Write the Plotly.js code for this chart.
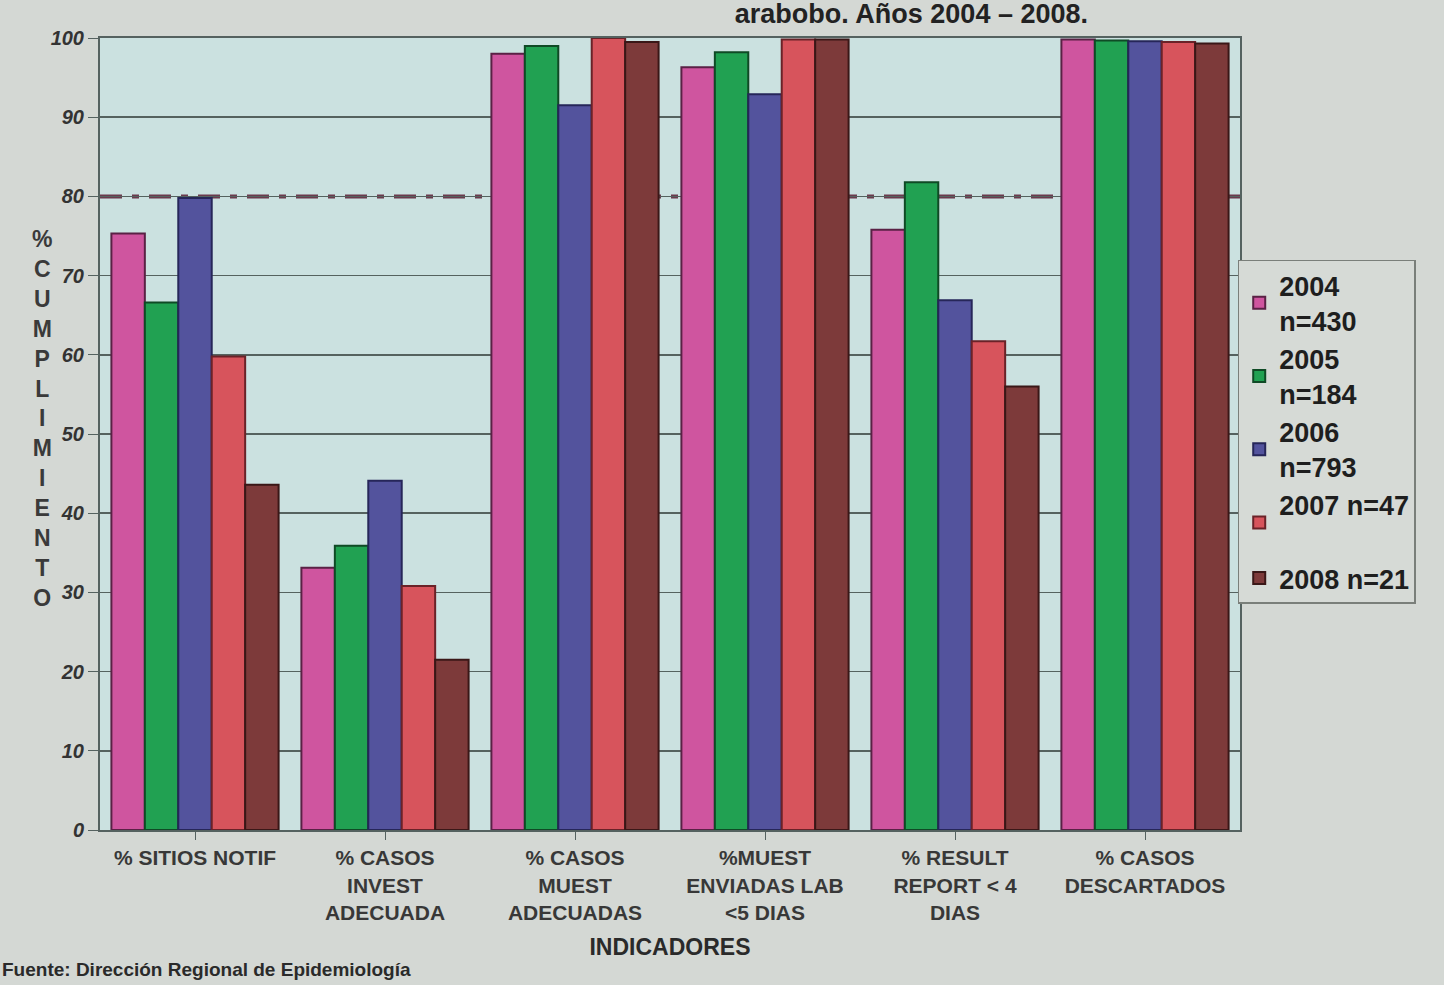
<!DOCTYPE html>
<html>
<head>
<meta charset="utf-8">
<script src="https://cdn.plot.ly/plotly-3.0.1.min.js"></script>
<style>
  html, body { margin: 0; padding: 0; background: #d4d8d4; }
  #chart { width: 1444px; height: 985px; }
</style>
</head>
<body>
<div id="chart"></div>
<script>
// ---- data ----
const categories = [
  "% SITIOS NOTIF",
  "% CASOS<br>INVEST<br>ADECUADA",
  "% CASOS<br>MUEST<br>ADECUADAS",
  "%MUEST<br>ENVIADAS LAB<br>&lt;5 DIAS",
  "% RESULT<br>REPORT &lt; 4<br>DIAS",
  "% CASOS<br>DESCARTADOS"
];
const seriesNames = [
  "2004<br>n=430",
  "2005<br>n=184",
  "2006<br>n=793",
  "2007 n=47<br> ",
  "2008 n=21"
];
const v2004 = [75.3, 33.1, 98.0, 96.3, 75.8, 99.8];
const v2005 = [66.6, 35.9, 99.0, 98.2, 81.8, 99.7];
const v2006 = [79.8, 44.1, 91.5, 92.9, 66.9, 99.6];
const v2007 = [59.8, 30.8, 100.0, 99.8, 61.7, 99.5];
const v2008 = [43.6, 21.5, 99.5, 99.8, 56.0, 99.3];
const META = 80;           // dash-dot target line
const yTicks = [0, 10, 20, 30, 40, 50, 60, 70, 80, 90, 100];

const seriesValues = [v2004, v2005, v2006, v2007, v2008];
const colors = ["#cf559f", "#21a152", "#53539d", "#d7545c", "#7d3a3a"];
const edges  = ["#5a2145", "#0f4a25", "#262659", "#6a2228", "#3a1717"];

const traces = seriesValues.map((vals, i) => ({
  type: "bar",
  name: seriesNames[i],
  x: categories,
  y: vals,
  marker: { color: colors[i], line: { color: edges[i], width: 2 } },
  hoverinfo: "y"
}));

const yTitleLetters = ["%", "C", "U", "M", "P", "L", "I", "M", "I", "E", "N", "T", "O"];

const layout = {
  width: 1444,
  height: 985,
  paper_bgcolor: "#d4d8d4",
  plot_bgcolor: "#cbe1e0",
  margin: { l: 100, r: 204, t: 38, b: 155 },
  barmode: "group",
  bargap: 0.12,
  bargroupgap: 0,
  font: { family: "Liberation Sans, Arial, sans-serif", color: "#2e2e2e" },
  title: {
    text: "arabobo. Años 2004 – 2008.",
    font: { size: 27, family: "Liberation Sans, Arial, sans-serif", color: "#222", weight: "bold" },
    xref: "container", yref: "container",
    x: 1088 / 1444, xanchor: "right",
    y: 1 - 14 / 985, yanchor: "middle"
  },
  xaxis: {
    type: "category",
    tickfont: { size: 21, color: "#383838", weight: "bold" },
    showline: true, linecolor: "#556260", linewidth: 2,
    mirror: true,
    ticks: "outside", ticklen: 8, tickcolor: "#556260",
    showgrid: false,
    title: { text: "INDICADORES", font: { size: 23, color: "#2a2a2a", weight: "bold" }, standoff: 16 }
  },
  yaxis: {
    range: [0, 100],
    tickvals: yTicks,
    tickfont: { size: 20, color: "#333", weight: "bold", style: "italic" },
    showline: true, linecolor: "#556260", linewidth: 2,
    mirror: true,
    ticks: "outside", ticklen: 10, tickcolor: "#556260",
    showgrid: true, gridcolor: "#55625f", gridwidth: 1.6,
    zeroline: false
  },
  legend: {
    x: 0.998, xanchor: "left",
    y: 0.72, yanchor: "top",
    bgcolor: "#d6dad6",
    bordercolor: "#7a7f7a", borderwidth: 1.5,
    font: { size: 27, color: "#1e1e1e", weight: "bold" },
    traceorder: "normal",
    tracegroupgap: 0,
    itemwidth: 30
  },
  shapes: [{
    type: "line", xref: "paper", yref: "y",
    x0: 0, x1: 1, y0: META, y1: META,
    layer: "below",
    line: { color: "#6a3a4c", width: 4, dash: "22px,10px,7px,10px" }
  }],
  annotations: [
    {
      text: yTitleLetters.join("<br>"),
      xref: "paper", yref: "paper",
      x: -58 / 1140, y: 0.52,
      xanchor: "center", yanchor: "middle",
      showarrow: false,
      font: { size: 23, color: "#3a3a3a", weight: "bold" },
      align: "center"
    },
    {
      text: "Fuente: Dirección Regional de Epidemiología",
      xref: "paper", yref: "paper",
      x: -0.088, y: -0.192,
      xanchor: "left", yanchor: "bottom",
      showarrow: false,
      font: { size: 19, color: "#2a2a2a", weight: "bold" }
    }
  ]
};

Plotly.newPlot("chart", traces, layout, { displayModeBar: false, staticPlot: true });
</script>
</body>
</html>
